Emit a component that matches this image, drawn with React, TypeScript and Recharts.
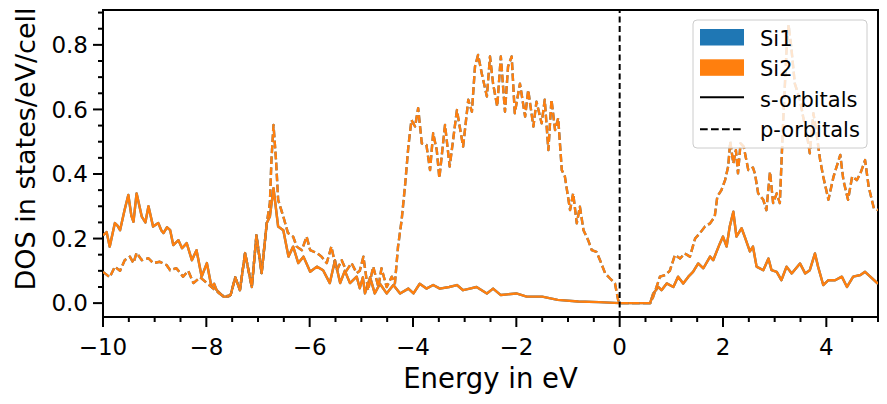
import React from 'react';
import { LineChart, Line, XAxis, YAxis, ReferenceLine, ReferenceArea } from 'recharts';

// energies (eV) and DOS values; Si1 and Si2 coincide
const sEnergy = [
    -10.0, -9.93, -9.87, -9.77, -9.72, -9.67, -9.58, -9.51, -9.45, -9.41,
    -9.35, -9.25, -9.18, -9.12, -9.03, -8.93, -8.87, -8.83, -8.76, -8.7,
    -8.64, -8.54, -8.47, -8.38, -8.28, -8.19, -8.09, -7.99, -7.9, -7.85,
    -7.8, -7.67, -7.58, -7.53, -7.44, -7.35, -7.25, -7.12, -7.03, -6.93,
    -6.83, -6.77, -6.7, -6.61, -6.51, -6.41, -6.32, -6.22, -6.12, -5.99,
    -5.86, -5.74, -5.61, -5.51, -5.41, -5.32, -5.22, -5.09, -5.03, -4.97,
    -4.93, -4.83, -4.74, -4.64, -4.51, -4.38, -4.25, -4.09, -3.99, -3.87,
    -3.74, -3.61, -3.48, -3.3, -3.15, -3.03, -2.9, -2.77, -2.57, -2.45,
    -2.3, -2.0, -1.8, -1.5, -1.2, -0.8, -0.4, 0.0, 0.59, 0.65,
    0.75, 0.81, 0.91, 1.04, 1.13, 1.23, 1.33, 1.42, 1.52, 1.62,
    1.75, 1.81, 1.94, 2.0, 2.07, 2.13, 2.2, 2.26, 2.36, 2.42,
    2.52, 2.58, 2.65, 2.78, 2.88, 2.94, 3.04, 3.13, 3.23, 3.33,
    3.49, 3.59, 3.68, 3.78, 3.84, 3.94, 4.04, 4.17, 4.3, 4.4,
    4.52, 4.66, 4.75, 4.85, 5.0,
];
const sDos = [
    0.21, 0.22, 0.175, 0.248, 0.24, 0.226, 0.29, 0.335, 0.27, 0.252,
    0.34, 0.268, 0.25, 0.3, 0.237, 0.248, 0.225, 0.217, 0.235, 0.226,
    0.18, 0.195, 0.17, 0.186, 0.133, 0.164, 0.082, 0.124, 0.05, 0.06,
    0.04, 0.02, 0.02, 0.025, 0.08, 0.04, 0.155, 0.05, 0.21, 0.093,
    0.248, 0.268, 0.356, 0.237, 0.226, 0.144, 0.175, 0.124, 0.144, 0.097,
    0.113, 0.102, 0.062, 0.133, 0.062, 0.1, 0.062, 0.082, 0.046, 0.08,
    0.03, 0.08, 0.03, 0.06, 0.03, 0.056, 0.03, 0.045, 0.03, 0.06,
    0.045, 0.056, 0.045, 0.05, 0.056, 0.04, 0.045, 0.05, 0.03, 0.045,
    0.025, 0.03, 0.02, 0.02, 0.01, 0.005, 0.003, 0.0, 0.0, 0.03,
    0.05, 0.04, 0.061, 0.05, 0.082, 0.061, 0.082, 0.097, 0.123, 0.108,
    0.144, 0.133, 0.185, 0.206, 0.175, 0.237, 0.283, 0.206, 0.232, 0.206,
    0.16, 0.175, 0.113, 0.102, 0.138, 0.102, 0.097, 0.071, 0.113, 0.092,
    0.123, 0.092, 0.102, 0.154, 0.113, 0.056, 0.071, 0.071, 0.082, 0.05,
    0.082, 0.087, 0.097, 0.082, 0.06,
];

const pEnergy = [
    -10.0, -9.87, -9.77, -9.67, -9.58, -9.48, -9.41, -9.35, -9.25, -9.12,
    -9.03, -8.9, -8.77, -8.7, -8.58, -8.45, -8.35, -8.25, -8.12, -7.99,
    -7.9, -7.75, -7.65, -7.53, -7.44, -7.35, -7.25, -7.12, -7.03, -6.93,
    -6.83, -6.77, -6.74, -6.7, -6.65, -6.61, -6.51, -6.42, -6.32, -6.25,
    -6.15, -6.06, -5.99, -5.86, -5.77, -5.67, -5.58, -5.48, -5.38, -5.29,
    -5.19, -5.09, -5.03, -4.96, -4.87, -4.77, -4.67, -4.61, -4.51, -4.41,
    -4.35, -4.29, -4.22, -4.15, -4.09, -4.03, -3.96, -3.9, -3.83, -3.74,
    -3.67, -3.61, -3.54, -3.49, -3.38, -3.29, -3.15, -3.03, -2.93, -2.86,
    -2.8, -2.74, -2.67, -2.57, -2.51, -2.45, -2.37, -2.3, -2.22, -2.16,
    -2.09, -2.03, -1.93, -1.83, -1.77, -1.67, -1.61, -1.51, -1.45, -1.38,
    -1.32, -1.25, -1.19, -1.12, -1.06, -0.96, -0.9, -0.83, -0.77, -0.7,
    -0.61, -0.54, -0.45, -0.38, -0.28, -0.19, -0.09, -0.03, 0.0, 0.59,
    0.65, 0.78, 0.88, 0.97, 1.07, 1.17, 1.26, 1.36, 1.46, 1.55,
    1.65, 1.75, 1.84, 1.89, 1.97, 2.04, 2.1, 2.14, 2.2, 2.25,
    2.29, 2.34, 2.4, 2.49, 2.58, 2.62, 2.68, 2.78, 2.84, 2.91,
    2.97, 3.04, 3.1, 3.16, 3.23, 3.27, 3.32, 3.39, 3.49, 3.55,
    3.62, 3.68, 3.75, 3.81, 3.88, 3.94, 4.04, 4.14, 4.27, 4.33,
    4.42, 4.5, 4.59, 4.66, 4.75, 4.82, 4.92, 5.0,
];
const pDos = [
    0.097, 0.08, 0.113, 0.1, 0.133, 0.144, 0.124, 0.156, 0.133, 0.139,
    0.124, 0.128, 0.118, 0.102, 0.108, 0.082, 0.1, 0.062, 0.08, 0.062,
    0.05, 0.03, 0.02, 0.025, 0.08, 0.04, 0.155, 0.05, 0.21, 0.093,
    0.248, 0.31, 0.443, 0.552, 0.44, 0.32, 0.268, 0.217, 0.206, 0.175,
    0.164, 0.206, 0.164, 0.155, 0.144, 0.124, 0.175, 0.1, 0.133, 0.1,
    0.124, 0.093, 0.1, 0.144, 0.04, 0.113, 0.05, 0.108, 0.05, 0.082,
    0.061, 0.175, 0.257, 0.371, 0.485, 0.567, 0.547, 0.604, 0.495, 0.49,
    0.412, 0.526, 0.474, 0.387, 0.552, 0.423, 0.598, 0.485, 0.63, 0.593,
    0.733, 0.769, 0.712, 0.64, 0.764, 0.68, 0.609, 0.764, 0.593, 0.733,
    0.764, 0.588, 0.68, 0.578, 0.66, 0.547, 0.624, 0.557, 0.63, 0.474,
    0.63, 0.536, 0.573, 0.412, 0.392, 0.288, 0.34, 0.247, 0.299, 0.226,
    0.195, 0.164, 0.159, 0.133, 0.092, 0.077, 0.061, 0.01, 0.0, 0.0,
    0.02, 0.082, 0.087, 0.1, 0.149, 0.138, 0.154, 0.144, 0.2, 0.216,
    0.237, 0.247, 0.268, 0.33, 0.35, 0.381, 0.423, 0.5, 0.433, 0.474,
    0.402, 0.495, 0.485, 0.412, 0.42, 0.4, 0.34, 0.32, 0.288, 0.407,
    0.31, 0.34, 0.31, 0.547, 0.785, 0.862, 0.795, 0.68, 0.63, 0.578,
    0.526, 0.464, 0.588, 0.526, 0.443, 0.392, 0.32, 0.392, 0.459, 0.381,
    0.32, 0.392, 0.381, 0.402, 0.443, 0.36, 0.294, 0.288,
];

const xMajorTicks = [-10, -8, -6, -4, -2, 0, 2, 4];
const xAllTicks = [
    -10, -9.5, -9, -8.5, -8, -7.5, -7, -6.5, -6, -5.5, -5, -4.5, -4, -3.5, -3, -2.5,
    -2, -1.5, -1, -0.5, 0, 0.5, 1, 1.5, 2, 2.5, 3, 3.5, 4, 4.5, 5,
];
const yMajorTicks = [0, 0.2, 0.4, 0.6, 0.8];
const yAllTicks = [
    0, 0.05, 0.1, 0.15, 0.2, 0.25, 0.3, 0.35, 0.4, 0.45, 0.5, 0.55, 0.6, 0.65, 0.7, 0.75, 0.8, 0.85, 0.9,
];

const atoms = [
    { name: 'Si1', color: '#1f77b4' },
    { name: 'Si2', color: '#ff7f0e' },
];

const X_DOMAIN: [number, number] = [-10, 5];
const Y_DOMAIN: [number, number] = [-0.043, 0.908];
const FONT = '"DejaVu Sans", sans-serif';
const DASH = '7.7 3.3';
const LINE_W = 2.4;

const sData = sEnergy.map((e, i) => ({ e, v: sDos[i] }));
const pData = pEnergy.map((e, i) => ({ e, v: pDos[i] }));

const isMajor = (v: number, list: number[]) => list.some(t => Math.abs(t - v) < 1e-9);

const XTick = (props: any) => {
    const { x, y, payload } = props;
    const major = isMajor(payload.value, xMajorTicks);
    const label = payload.value < 0 ? `\u2212${Math.abs(payload.value)}` : `${payload.value}`;
    return (
        <g>
            <line x1={x} x2={x} y1={y} y2={y + (major ? 10 : 5)} stroke="#000" strokeWidth={2} />
            {major && (
                <text x={x} y={y + 38} textAnchor="middle" fontSize={23} fontFamily={FONT} fill="#000">
                    {label}
                </text>
            )}
        </g>
    );
};

const YTick = (props: any) => {
    const { x, y, payload } = props;
    const major = isMajor(payload.value, yMajorTicks);
    return (
        <g>
            <line x1={x} x2={x - (major ? 10 : 5)} y1={y} y2={y} stroke="#000" strokeWidth={2} />
            {major && (
                <text x={x - 15} y={y} dy="0.36em" textAnchor="end" fontSize={23} fontFamily={FONT} fill="#000">
                    {payload.value.toFixed(1)}
                </text>
            )}
        </g>
    );
};

function PlotLegend() {
    return (
        <svg width={176} height={130} style={{ position: 'absolute', left: 692, top: 19 }}>
            <rect x={1} y={1} width={174} height={128} rx={4} fill="rgba(255,255,255,0.8)" stroke="#cccccc" strokeWidth={1} />
            {atoms.map((a, i) => (
                <g key={a.name}>
                    <rect x={8} y={10 + i * 30.3} width={44} height={16.5} fill={a.color} />
                    <text x={68} y={26.7 + i * 30.3} fontSize={21} fontFamily={FONT} fill="#000">{a.name}</text>
                </g>
            ))}
            <line x1={8} x2={52} y1={78.3} y2={78.3} stroke="#000" strokeWidth={2} />
            <text x={68} y={87.5} fontSize={21} fontFamily={FONT} fill="#000">s-orbitals</text>
            <line x1={8} x2={52} y1={110.3} y2={110.3} stroke="#000" strokeWidth={2} strokeDasharray={DASH} />
            <text x={68} y={117.8} fontSize={21} fontFamily={FONT} fill="#000">p-orbitals</text>
        </svg>
    );
}

export default function App() {
    return (
        <div style={{ position: 'absolute', left: 0, top: 0, width: 887, height: 404, background: '#fff' }}>
            <LineChart width={887} height={404} margin={{ top: 10, right: 9, bottom: 0, left: 0 }}>
                <XAxis
                    dataKey="e"
                    type="number"
                    domain={X_DOMAIN}
                    allowDataOverflow
                    ticks={xAllTicks}
                    interval={0}
                    height={87}
                    axisLine={false}
                    tickLine={false}
                    tickSize={0}
                    tickMargin={0}
                    tick={XTick}
                    label={() => (
                        <text x={490.5} y={388} textAnchor="middle" fontSize={27.5} fontFamily={FONT} fill="#000">
                            Energy in eV
                        </text>
                    )}
                />
                <YAxis
                    type="number"
                    domain={Y_DOMAIN}
                    allowDataOverflow
                    ticks={yAllTicks}
                    interval={0}
                    width={103}
                    axisLine={false}
                    tickLine={false}
                    tickSize={0}
                    tickMargin={0}
                    tick={YTick}
                    label={() => (
                        <text
                            x={35}
                            y={149}
                            transform="rotate(-90 35 149)"
                            textAnchor="middle"
                            fontSize={27}
                            fontFamily={FONT}
                            fill="#000"
                        >
                            DOS in states/eV/cell
                        </text>
                    )}
                />
                {atoms.map(a => (
                    <Line
                        key={`${a.name}-s`}
                        data={sData}
                        dataKey="v"
                        type="linear"
                        stroke={a.color}
                        strokeWidth={LINE_W}
                        strokeLinejoin="round"
                        dot={false}
                        activeDot={false}
                        isAnimationActive={false}
                    />
                ))}
                {atoms.map(a => (
                    <Line
                        key={`${a.name}-p`}
                        data={pData}
                        dataKey="v"
                        type="linear"
                        stroke={a.color}
                        strokeWidth={LINE_W}
                        strokeDasharray={DASH}
                        strokeLinejoin="round"
                        dot={false}
                        activeDot={false}
                        isAnimationActive={false}
                    />
                ))}
                <ReferenceLine x={0} stroke="#000" strokeWidth={2} strokeDasharray="6 3.5" />
                <ReferenceArea
                    x1={X_DOMAIN[0]}
                    x2={X_DOMAIN[1]}
                    y1={Y_DOMAIN[0]}
                    y2={Y_DOMAIN[1]}
                    fill="none"
                    fillOpacity={0}
                    stroke="#000"
                    strokeWidth={2}
                />
            </LineChart>
            <PlotLegend />
        </div>
    );
}
